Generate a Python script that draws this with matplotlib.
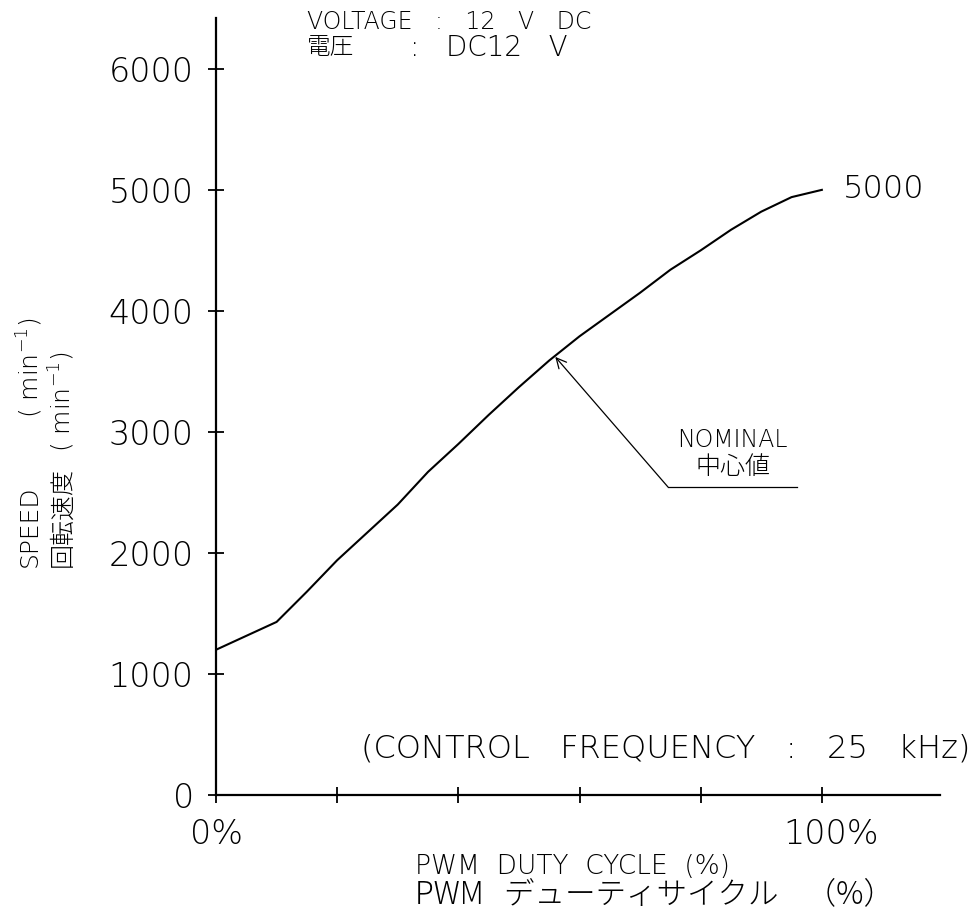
import numpy as np
import matplotlib
matplotlib.use("Agg")
import matplotlib.pyplot as plt
import matplotlib.transforms as mtransforms

# -------------------- data --------------------
duty = [0, 10, 15, 20, 25, 30, 35, 40, 45, 50, 55, 60, 65, 70, 75, 80, 85, 90, 95, 100]
speed = [1200, 1430, 1680, 1940, 2170, 2400, 2670, 2900, 3140, 3370,
         3590, 3790, 3970, 4150, 4340, 4500, 4670, 4820, 4940, 5000]

y_ticks = [0, 1000, 2000, 3000, 4000, 5000, 6000]
x_ticks = [0, 20, 40, 60, 80, 100]
x_tick_labels = ["0%", "", "", "", "", "100%"]

end_label = "5000"
nominal_tip = (56, 3620)       # where the arrow points on the curve
nominal_elbow = (74.6, 2545)
nominal_end = 95.9

plt.rcParams['font.family'] = ['DejaVu Sans', 'Noto Sans CJK JP']
plt.rcParams['font.weight'] = 'light'

W, H = 980, 919
fig = plt.figure(figsize=(W / 100, H / 100), dpi=100)

# axes box in pixels: left 216, right 940, bottom 795, top 18
ax = fig.add_axes([216 / W, 1 - 795 / H, (940 - 216) / W, (795 - 18) / H])


def px(x, y):
    return x / W, 1 - y / H


ax.plot(duty, speed, color='black', lw=1.5, solid_joinstyle='round')

ax.set_xlim(0, 119.5)
ax.set_ylim(0, 6420)

for s in ['top', 'right']:
    ax.spines[s].set_visible(False)
for s in ['left', 'bottom']:
    ax.spines[s].set_linewidth(1.6)

ax.set_yticks(y_ticks)
ax.set_yticklabels([str(v) for v in y_ticks])
ax.set_xticks(x_ticks)
ax.set_xticklabels(x_tick_labels)
ax.tick_params(axis='y', direction='inout', length=12, width=1.3, pad=10, labelsize=24)
ax.tick_params(axis='x', direction='inout', length=11, width=1.3, pad=11, labelsize=24)
# the 100% label sits a little right of its tick in the drawing
shift = mtransforms.ScaledTranslation(9 / 100, 0, fig.dpi_scale_trans)
for lab in ax.get_xticklabels():
    if lab.get_text() == "100%":
        lab.set_transform(lab.get_transform() + shift)

# end value label
ax.text(103.5, 5008, end_label, fontsize=23, va='center', ha='left')

# nominal annotation
ax.annotate("", xy=nominal_tip, xytext=nominal_elbow,
            arrowprops=dict(arrowstyle='->', color='black', lw=0.9,
                            mutation_scale=18, shrinkA=0, shrinkB=0))
ax.plot([nominal_elbow[0], nominal_end], [nominal_elbow[1], nominal_elbow[1]],
        color='black', lw=0.9)
ax.text(85.3, 2934, "NOMINAL", fontsize=17, ha='center', va='center')
ax.text(85.3, 2711, "中心値", fontsize=18, ha='center', va='center',
        family=['Noto Sans CJK JP', 'DejaVu Sans'])

# control frequency note
fig.text(*px(970, 748), "(CONTROL   FREQUENCY   :   25   kHz)", fontsize=23,
         ha='right', va='center')

# voltage note at the top
fig.text(*px(307, 22), "VOLTAGE   :   12   V   DC", fontsize=17, ha='left', va='center')
fig.text(*px(307, 48), "電圧", fontsize=17, ha='left', va='center',
         family=['Noto Sans CJK JP', 'DejaVu Sans'])
fig.text(*px(410, 48), ":   DC12   V", fontsize=20, ha='left', va='center')

# x axis label, two lines
fig.text(*px(415, 866), "PWM  DUTY  CYCLE  (%)", fontsize=19, ha='left', va='center')
fig.text(*px(415, 894), "PWM   デューティサイクル    （%）", fontsize=22, ha='left', va='center',
         family=['Noto Sans CJK JP', 'DejaVu Sans'])

# y axis label, two rotated lines
fig.text(*px(30, 567), "SPEED", fontsize=18, rotation=90, ha='center', va='bottom')
fig.text(*px(30, 418), "( min$^{-1}$)", fontsize=18, rotation=90, ha='center', va='bottom')
fig.text(*px(62, 567), "回転速度", fontsize=18, rotation=90, ha='center', va='bottom',
         family=['Noto Sans CJK JP', 'DejaVu Sans'])
fig.text(*px(62, 452), "( min$^{-1}$)", fontsize=18, rotation=90, ha='center', va='bottom')

fig.savefig("out.png", dpi=100)
